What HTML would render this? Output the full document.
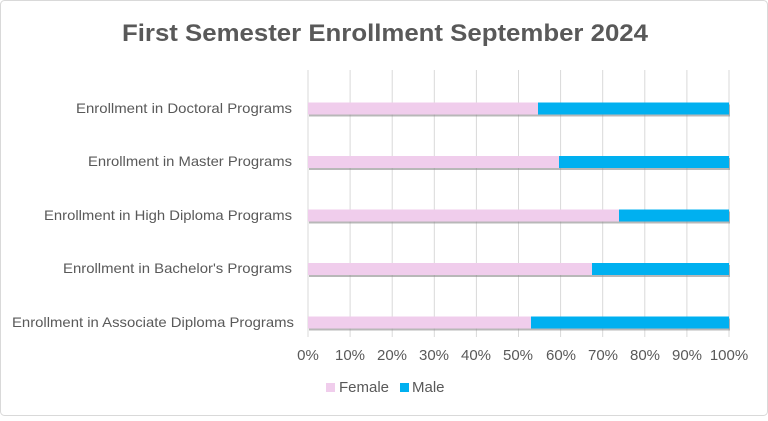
<!DOCTYPE html>
<html><head><style>
body{margin:0;width:768px;height:416px;background:#fff;font-family:"Liberation Sans",sans-serif;}
</style></head><body>
<svg width="768" height="416" xmlns="http://www.w3.org/2000/svg" font-family="Liberation Sans, sans-serif">
<rect x="0.5" y="0.5" width="767" height="415" rx="4" fill="#fff" stroke="#d9d9d9"/>
<text x="122" y="41" textLength="526" lengthAdjust="spacingAndGlyphs" font-size="24" font-weight="bold" fill="#595959">First Semester Enrollment September 2024</text>
<g stroke="#d9d9d9" stroke-width="1">
<line x1="308" y1="70" x2="308" y2="337"/><line x1="350.1" y1="70" x2="350.1" y2="337"/><line x1="392.2" y1="70" x2="392.2" y2="337"/><line x1="434.3" y1="70" x2="434.3" y2="337"/><line x1="476.4" y1="70" x2="476.4" y2="337"/><line x1="518.5" y1="70" x2="518.5" y2="337"/><line x1="560.6" y1="70" x2="560.6" y2="337"/><line x1="602.7" y1="70" x2="602.7" y2="337"/><line x1="644.8" y1="70" x2="644.8" y2="337"/><line x1="686.9" y1="70" x2="686.9" y2="337"/><line x1="729" y1="70" x2="729" y2="337"/>
</g>
<g>
<rect x="309" y="104.5" width="421" height="12" fill="#888" opacity="0.6"/>
<rect x="308" y="102.5" width="230" height="12" fill="#f0cdec"/><rect x="538" y="102.5" width="191" height="12" fill="#00b0f0"/>
<rect x="309" y="158" width="421" height="12" fill="#888" opacity="0.6"/>
<rect x="308" y="156" width="251" height="12" fill="#f0cdec"/><rect x="559" y="156" width="170" height="12" fill="#00b0f0"/>
<rect x="309" y="211.5" width="421" height="12" fill="#888" opacity="0.6"/>
<rect x="308" y="209.5" width="311" height="12" fill="#f0cdec"/><rect x="619" y="209.5" width="110" height="12" fill="#00b0f0"/>
<rect x="309" y="265" width="421" height="12" fill="#888" opacity="0.6"/>
<rect x="308" y="263" width="284" height="12" fill="#f0cdec"/><rect x="592" y="263" width="137" height="12" fill="#00b0f0"/>
<rect x="309" y="318.5" width="421" height="12" fill="#888" opacity="0.6"/>
<rect x="308" y="316.5" width="223" height="12" fill="#f0cdec"/><rect x="531" y="316.5" width="198" height="12" fill="#00b0f0"/>
</g>
<g font-size="14" fill="#595959" lengthAdjust="spacingAndGlyphs">
<text x="76" y="113" textLength="216" lengthAdjust="spacingAndGlyphs">Enrollment in Doctoral Programs</text>
<text x="88" y="166" textLength="204" lengthAdjust="spacingAndGlyphs">Enrollment in Master Programs</text>
<text x="44" y="220" textLength="248" lengthAdjust="spacingAndGlyphs">Enrollment in High Diploma Programs</text>
<text x="63" y="273" textLength="229" lengthAdjust="spacingAndGlyphs">Enrollment in Bachelor's Programs</text>
<text x="12" y="327" textLength="282" lengthAdjust="spacingAndGlyphs">Enrollment in Associate Diploma Programs</text>
</g>
<g font-size="15" fill="#595959" text-anchor="middle">
<text x="308" y="360">0%</text><text x="350" y="360">10%</text><text x="392" y="360">20%</text><text x="434" y="360">30%</text><text x="476" y="360">40%</text><text x="518" y="360">50%</text><text x="561" y="360">60%</text><text x="603" y="360">70%</text><text x="645" y="360">80%</text><text x="687" y="360">90%</text><text x="729" y="360">100%</text>
</g>
<rect x="326" y="383" width="9" height="9" fill="#f0cdec"/>
<text x="339" y="392" font-size="15" fill="#595959">Female</text>
<rect x="400" y="383" width="9" height="9" fill="#00b0f0"/>
<text x="412" y="392" font-size="15" fill="#595959">Male</text>
</svg>
</body></html>
